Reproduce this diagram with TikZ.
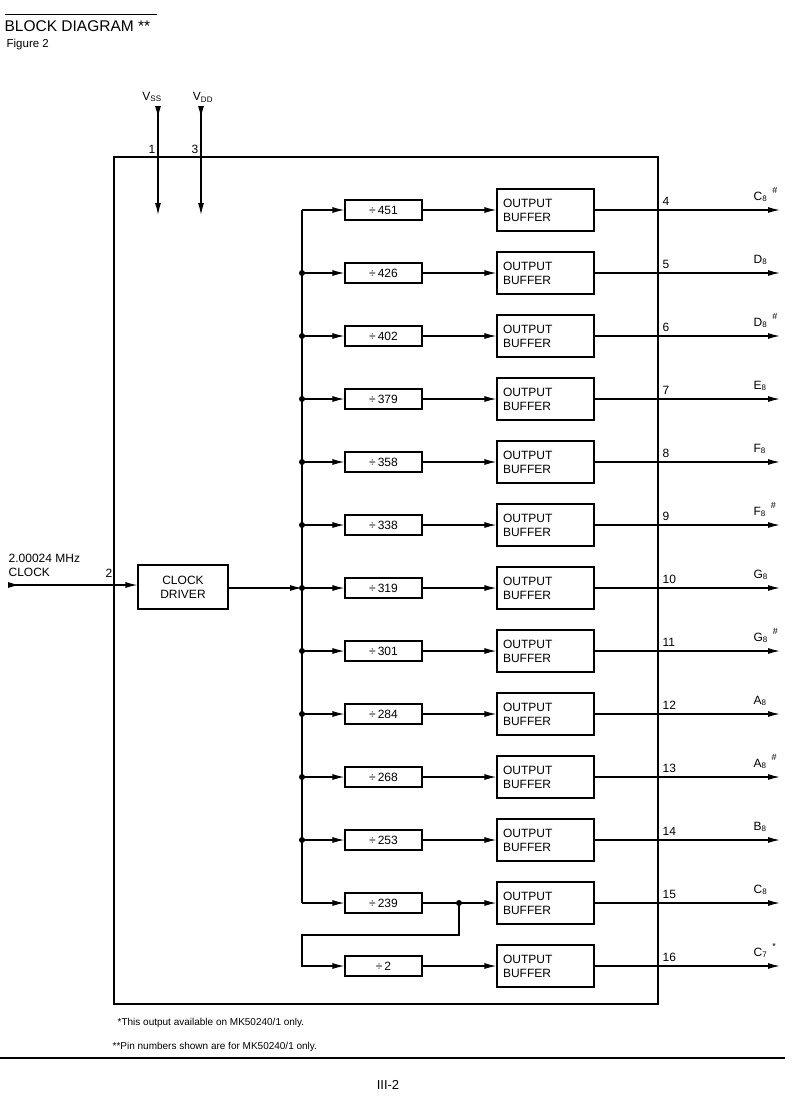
\documentclass[tikz,border=0pt]{standalone}
\usepackage{fontspec}
\setmainfont{Liberation Sans}
\usetikzlibrary{arrows.meta,positioning}

\begin{document}
\begin{tikzpicture}[x=1pt, y=-1pt, line width=1.3pt,
    every node/.style={font=\fontsize{12}{14}\selectfont, inner sep=0pt},
    sig/.style={-{Latex[length=12pt,width=6pt]}},
    pinsig/.style={{Latex[length=12pt,width=6pt,reversed]}-{Latex[length=12pt,width=6pt]}},
    divbox/.style={draw, line width=1.1pt, minimum width=77pt, minimum height=20pt},
    bufbox/.style={draw, line width=1.1pt, minimum width=97pt, minimum height=42pt, text width=85pt, align=left},
    pinno/.style={anchor=base west},
    dot/.style={circle, fill, minimum size=6pt}]
  \useasboundingbox (0,0) rectangle (807,1098);

  % heading
  \draw[line width=0.9pt] (5,14) -- (157,14);
  \node[anchor=base west, font=\fontsize{15.5}{17}\selectfont] (title) at (4,31) {BLOCK DIAGRAM **};
  \node[anchor=base west, font=\fontsize{11.5}{13}\selectfont] (fig) at (6,47) {Figure 2};

  % chip outline
  \draw[line width=1.1pt] (114,157) rectangle (658,1004);

  % supply pins
  \node (vss) at (152,97) {V\textsubscript{SS}};
  \node (vdd) at (203,97) {V\textsubscript{DD}};
  \coordinate (vssa) at (158,106); \coordinate (vssb) at (158,215);
  \coordinate (vdda) at (201,106); \coordinate (vddb) at (201,215);
  \draw[pinsig] (vssa) -- (vssb);
  \draw[pinsig] (vdda) -- (vddb);
  \node[anchor=base east] at (156,153) {1};
  \node[anchor=base east] at (199,153) {3};

  % clock input
  \node[anchor=base west] (clkin) at (8,562) {2.00024 MHz};
  \node[anchor=base west] (clklbl) at (8,576) {CLOCK};
  \node[anchor=base west] at (105,577) {2};
  \node[draw, line width=1.1pt, minimum width=90pt, minimum height=44pt, align=center] (clk) at (183,587) {CLOCK\\DRIVER};
  \coordinate (clkstart) at (8,585);
  \draw[pinsig] (clkstart) -- (clk.west |- clkstart);

  % dividers and output buffers
  \foreach \d/\n/\b/\s/\p [count=\i] in {451/C/8/\#/4, 426/D/8//5, 402/D/8/\#/6,
      379/E/8//7, 358/F/8//8, 338/F/8/\#/9, 319/G/8//10, 301/G/8/\#/11,
      284/A/8//12, 268/A/8/\#/13, 253/B/8//14, 239/C/8//15, 2/C/7/*/16} {
    \pgfmathsetmacro\y{210+63*(\i-1)}
    \coordinate (bus\i) at (302,\y);
    \node[divbox] (div\i) at (383.5,\y) {÷\,\d};
    \node[bufbox] (buf\i) at (545.5,\y) {OUTPUT\\BUFFER};
    \coordinate (out\i) at (780,\y);
    \draw[sig] (div\i) -- (buf\i);
    \draw[sig] (buf\i) -- (out\i);
    \node[pinno] at (662,\y-5) {\p};
    \node[anchor=base west] (note\i) at (753,\y-10) {\n\textsubscript{\b}\hspace{5pt}\raisebox{7pt}{\small\s}};
    \ifnum\i<13
      \draw[sig] (bus\i) -- (div\i);
    \fi
  }

  % common bus
  \draw (bus1) -- (bus12);
  \foreach \i in {2,...,11} \node[dot] at (bus\i) {};
  \draw[sig] (clk.east |- bus7) -- (bus7);

  % divide by two from the 239 output
  \coordinate (tap) at (459,903);
  \coordinate (turn) at (302,935);
  \node[dot] at (tap) {};
  \draw[sig] (tap) |- (turn) |- (div13);

  % footnotes
  \node[anchor=base west, font=\fontsize{10}{12}\selectfont] (fn1) at (117,1025) {*This output available on MK50240/1 only.};
  \node[anchor=base west, font=\fontsize{10}{12}\selectfont] (fn2) at (112,1049) {**Pin numbers shown are for MK50240/1 only.};
  \draw[line width=1.6pt] (0,1058) -- (785,1058);
  \node[font=\fontsize{13}{15}\selectfont] (page) at (388,1085) {III-2};
\end{tikzpicture}
\end{document}
